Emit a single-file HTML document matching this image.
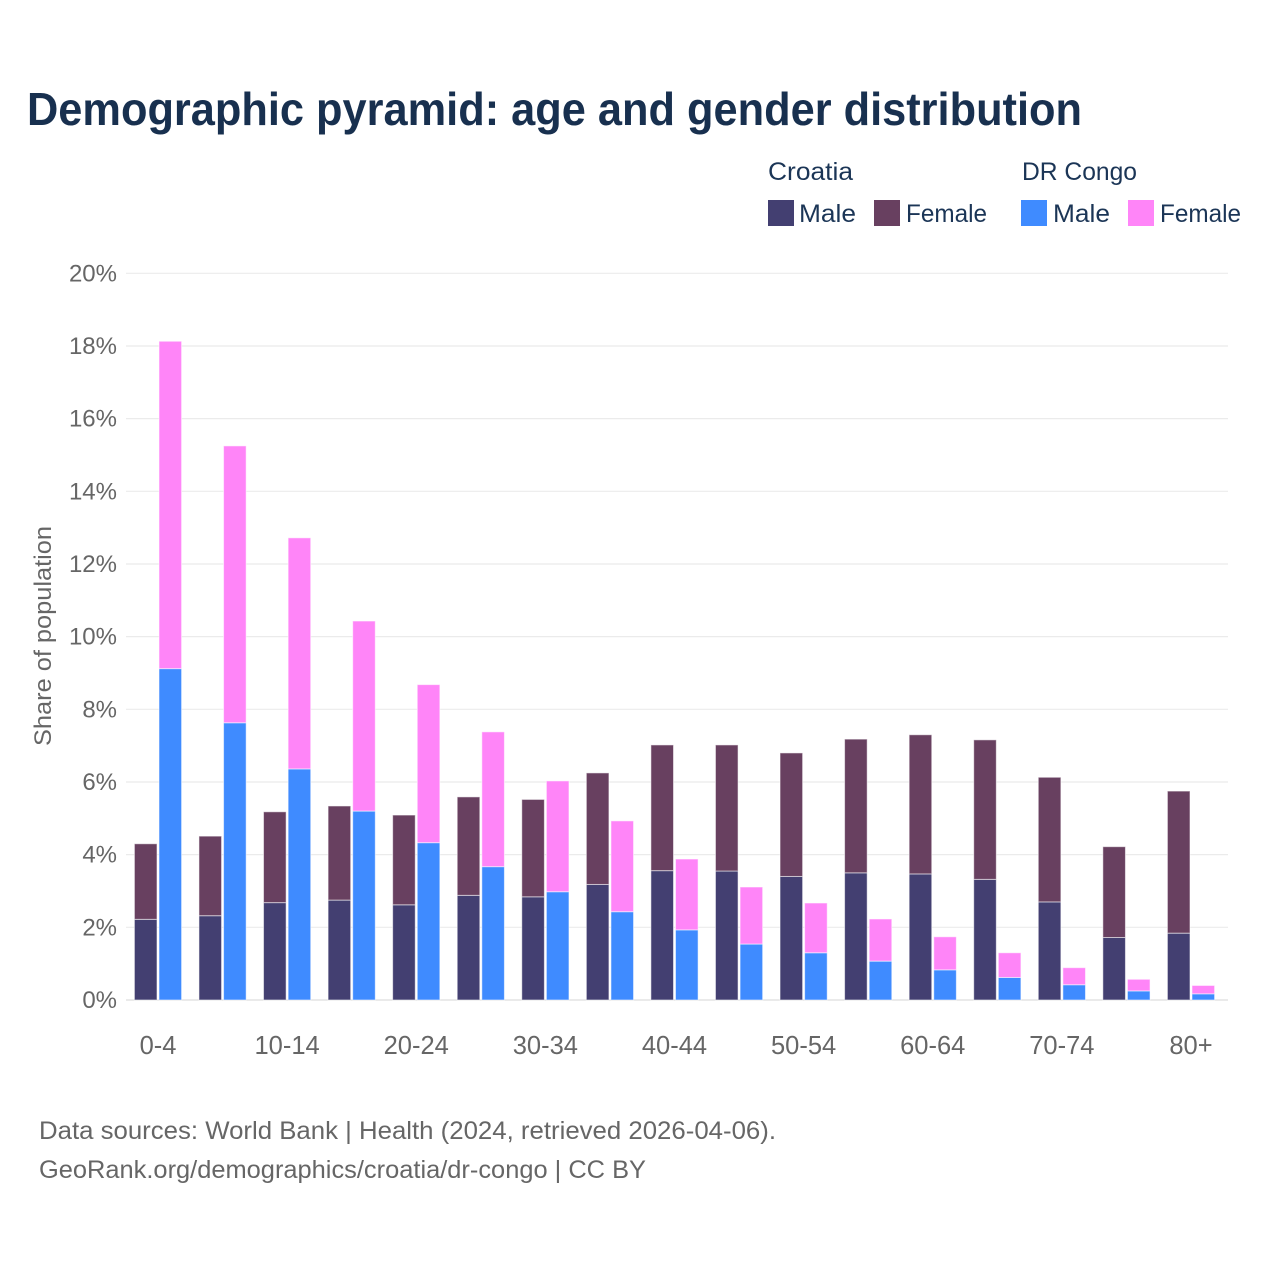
<!DOCTYPE html>
<html lang="en">
<head>
<meta charset="utf-8">
<title>Demographic pyramid: age and gender distribution</title>
<style>
  html, body { margin: 0; padding: 0; background: #ffffff; }
  svg { display: block; font-family: "Liberation Sans", sans-serif; }
</style>
</head>
<body>
<svg id="chart" xmlns="http://www.w3.org/2000/svg" width="1280" height="1280" viewBox="0 0 1280 1280">
  <rect x="0" y="0" width="1280" height="1280" fill="#ffffff"/>
  <text x="27" y="125" font-size="46" font-weight="700" fill="#18304f" textLength="1055" lengthAdjust="spacingAndGlyphs">Demographic pyramid: age and gender distribution</text>

  <g font-size="25" fill="#1b3556">
    <text x="768" y="180" textLength="85" lengthAdjust="spacingAndGlyphs">Croatia</text>
    <text x="1022" y="180" textLength="115" lengthAdjust="spacingAndGlyphs">DR Congo</text>
    <rect x="768" y="200" width="26" height="26" fill="#433f71"/>
    <text x="799" y="222" textLength="57" lengthAdjust="spacingAndGlyphs">Male</text>
    <rect x="874" y="200" width="26" height="26" fill="#684060"/>
    <text x="906" y="222" textLength="81" lengthAdjust="spacingAndGlyphs">Female</text>
    <rect x="1021" y="200" width="26" height="26" fill="#3f8bff"/>
    <text x="1053" y="222" textLength="57" lengthAdjust="spacingAndGlyphs">Male</text>
    <rect x="1128" y="200" width="26" height="26" fill="#ff85f8"/>
    <text x="1160" y="222" textLength="81" lengthAdjust="spacingAndGlyphs">Female</text>
  </g>

  <g id="grid"></g>
  <g id="y-ticks" font-size="24" fill="#666666" text-anchor="end"></g>
  <g id="bars"></g>
  <g id="x-ticks" font-size="25.5" fill="#666666" text-anchor="middle"></g>

  <text transform="translate(51 746) rotate(-90)" font-size="24" fill="#666666" textLength="220" lengthAdjust="spacingAndGlyphs">Share of population</text>

  <g font-size="25" fill="#666666">
    <text x="39" y="1139" textLength="737" lengthAdjust="spacingAndGlyphs">Data sources: World Bank | Health (2024, retrieved 2026-04-06).</text>
    <text x="39" y="1178" textLength="607" lengthAdjust="spacingAndGlyphs">GeoRank.org/demographics/croatia/dr-congo | CC BY</text>
  </g>
</svg>

<script>
const categories = ["0-4","5-9","10-14","15-19","20-24","25-29","30-34","35-39","40-44","45-49","50-54","55-59","60-64","65-69","70-74","75-79","80+"];
const croatiaMale = [2.22,2.32,2.68,2.75,2.62,2.88,2.84,3.18,3.56,3.55,3.40,3.50,3.47,3.32,2.70,1.72,1.84];
const croatiaFemale = [2.08,2.19,2.50,2.59,2.47,2.71,2.68,3.07,3.46,3.47,3.40,3.68,3.83,3.84,3.43,2.50,3.91];
const congoMale = [9.12,7.63,6.36,5.20,4.33,3.67,2.98,2.43,1.93,1.54,1.30,1.07,0.83,0.62,0.42,0.25,0.17];
const congoFemale = [9.01,7.62,6.36,5.23,4.35,3.71,3.05,2.50,1.95,1.57,1.37,1.16,0.91,0.68,0.47,0.32,0.23];
const yTickValues = [0,2,4,6,8,10,12,14,16,18,20];
const xTickLabels = ["0-4","10-14","20-24","30-34","40-44","50-54","60-64","70-74","80+"];

const SVG_NS = "http://www.w3.org/2000/svg";
const plot = { left: 126, right: 1228, top: 273.3, bottom: 1000, firstCenter: 158, lastCenter: 1191, yMax: 20, barWidth: 22.6 };

function yScale(v) {
  return plot.bottom - (v / plot.yMax) * (plot.bottom - plot.top);
}
function xScale(i) {
  return plot.firstCenter + i * (plot.lastCenter - plot.firstCenter) / (categories.length - 1);
}
function slug(s) {
  return s.replace(/[^a-z0-9]+/gi, "-").toLowerCase();
}

const gridGroup = document.getElementById("grid");
const yTickGroup = document.getElementById("y-ticks");
const barGroup = document.getElementById("bars");
const xTickGroup = document.getElementById("x-ticks");

yTickValues.forEach(function (v) {
  const line = document.createElementNS(SVG_NS, "line");
  
  
  line.setAttribute("x1", plot.left);
  line.setAttribute("x2", plot.right);
  line.setAttribute("y1", yScale(v));
  line.setAttribute("y2", yScale(v));
  line.setAttribute("stroke", v === 0 ? "#e4e4e4" : "#ebebeb");
  line.setAttribute("stroke-width", v === 0 ? 1.6 : 1.2);
  gridGroup.appendChild(line);

  const label = document.createElementNS(SVG_NS, "text");
  
  
  label.setAttribute("x", 117);
  label.setAttribute("y", yScale(v) + 8);
  label.textContent = v + "%";
  yTickGroup.appendChild(label);
});

function drawBar(name, x, v0, v1, fill) {
  const r = document.createElementNS(SVG_NS, "rect");
  
  
  r.setAttribute("x", x);
  r.setAttribute("y", yScale(v1));
  r.setAttribute("width", plot.barWidth);
  r.setAttribute("height", yScale(v0) - yScale(v1));
  r.setAttribute("fill", fill);
  r.setAttribute("stroke", "rgba(255,255,255,0.55)");
  r.setAttribute("stroke-width", 1);
  barGroup.appendChild(r);
}

categories.forEach(function (cat, i) {
  const c = xScale(i);
  const key = slug(cat);
  const leftX = c - 23.6;
  const rightX = c + 1;
  drawBar('bar-croatia-male-' + key, leftX, 0, croatiaMale[i], "#433f71");
  drawBar('bar-croatia-female-' + key, leftX, croatiaMale[i], croatiaMale[i] + croatiaFemale[i], "#684060");
  drawBar('bar-dr-congo-male-' + key, rightX, 0, congoMale[i], "#3f8bff");
  drawBar('bar-dr-congo-female-' + key, rightX, congoMale[i], congoMale[i] + congoFemale[i], "#ff85f8");
});

xTickLabels.forEach(function (lab) {
  const t = document.createElementNS(SVG_NS, "text");
  
  
  t.setAttribute("x", xScale(categories.indexOf(lab)));
  t.setAttribute("y", 1054);
  t.textContent = lab;
  xTickGroup.appendChild(t);
});
</script>
</body>
</html>
